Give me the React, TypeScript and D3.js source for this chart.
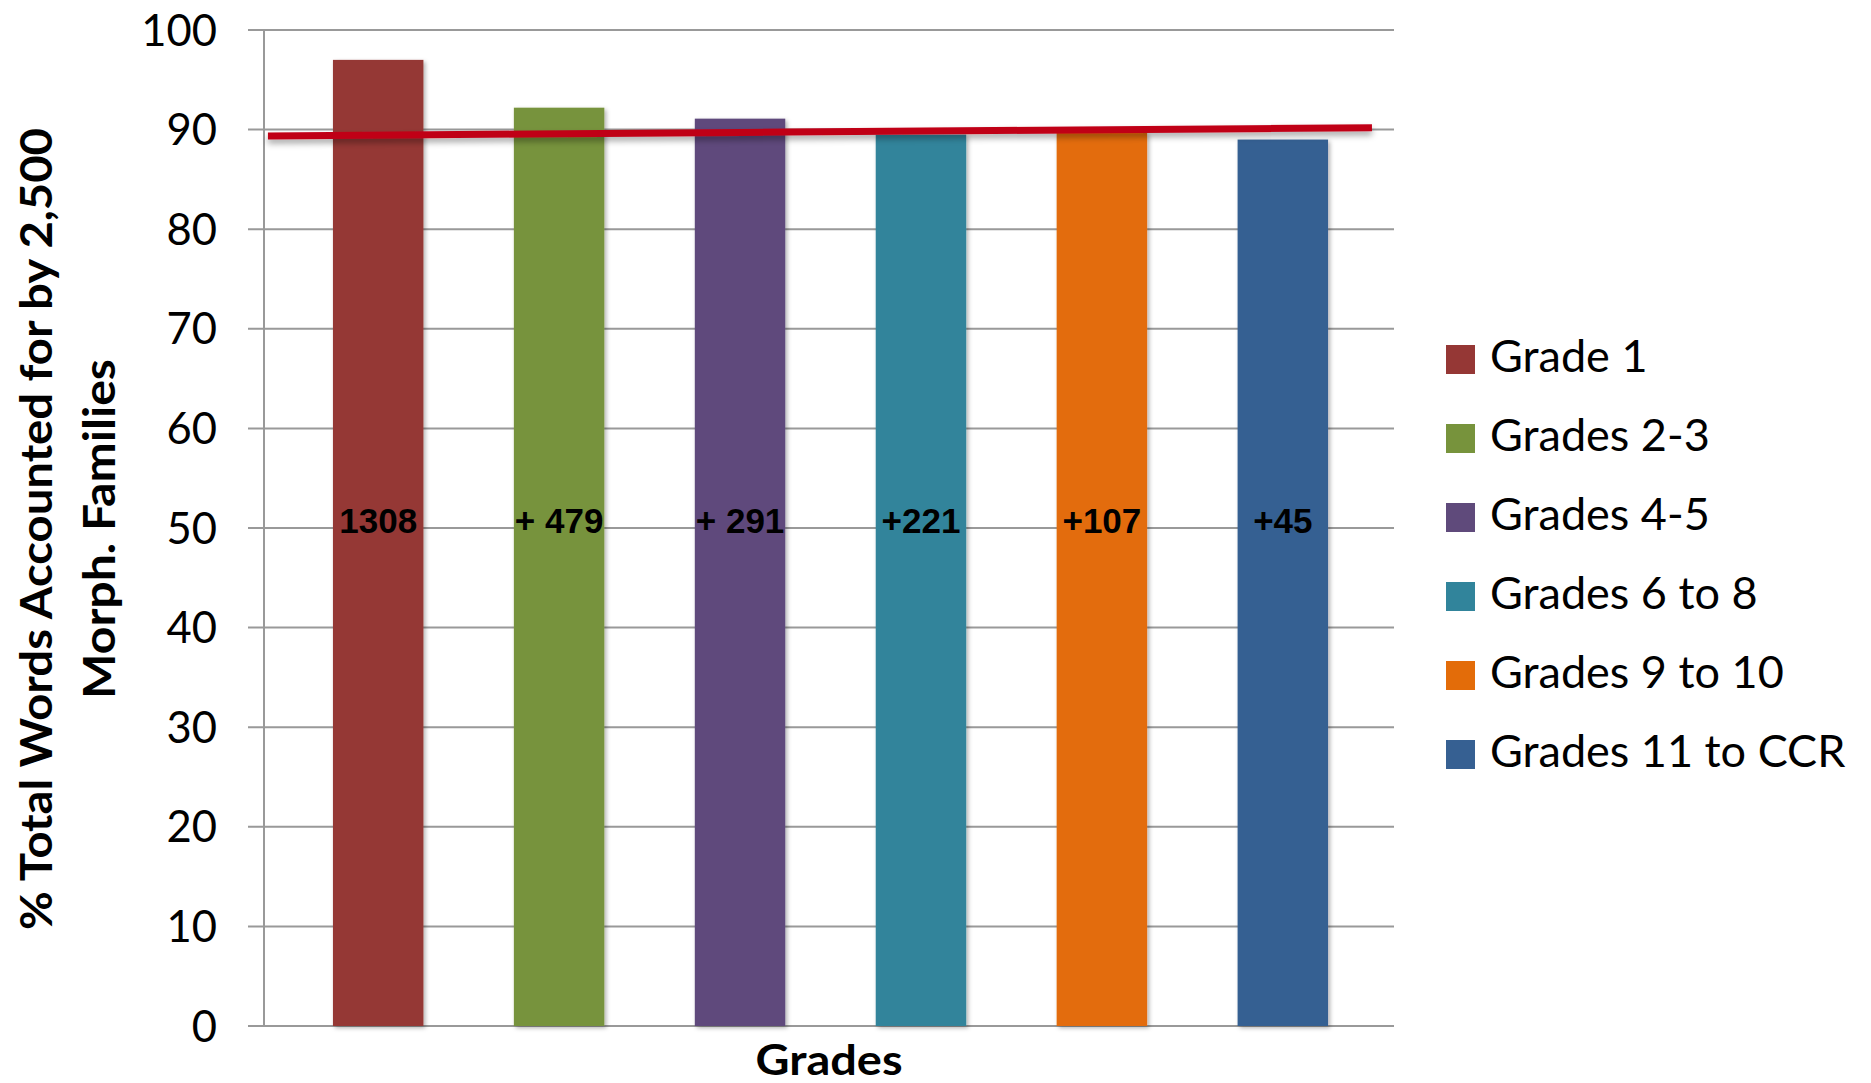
import React from "react";
import * as d3 from "d3";

const categories = ["Grade 1", "Grades 2-3", "Grades 4-5", "Grades 6 to 8", "Grades 9 to 10", "Grades 11 to CCR"];
const values = [97.0, 92.2, 91.1, 89.5, 89.7, 89.0];
const barLabels = ["1308", "+ 479", "+ 291", "+221", "+107", "+45"];
const colors = ["#953735", "#77933C", "#5F4A7B", "#31849B", "#E36C09", "#366092"];
const yTicks = [0, 10, 20, 30, 40, 50, 60, 70, 80, 90, 100];
const trendLine = [
  { t: 0.0035, v: 89.36 },
  { t: 0.9805, v: 90.19 },
];
const labelLevel = 49.5;
const yTitleLines = ["% Total Words Accounted for by 2,500", "Morph. Families"];
const yTitleLengths = [802, 340];
const xTitle = "Grades";

const W = 1871;
const H = 1083;
const plot = { left: 264, right: 1394, top: 30, bottom: 1026 };

export default function App() {
  const x = d3.scaleBand<string>().domain(categories).range([plot.left + 2, plot.right + 1]).paddingInner(0.5).paddingOuter(0.37);
  const y = d3.scaleLinear().domain([0, 100]).range([plot.bottom, plot.top]);
  const tx = d3.scaleLinear().domain([0, 1]).range([plot.left, plot.right]);
  const linePath = d3.line<{ t: number; v: number }>().x((d) => tx(d.t)).y((d) => y(d.v))(trendLine) || "";
  const font = "Lato, 'Open Sans', sans-serif";
  return (
    <svg width={W} height={H} style={{ position: "absolute", left: 0, top: 0, background: "#fff" }}>
      <defs>
        <filter id="sh" x="-20%" y="-20%" width="150%" height="150%">
          <feDropShadow dx="2" dy="2" stdDeviation="2" floodColor="#000" floodOpacity="0.3" />
        </filter>
        <filter id="lsh" x="-5%" y="-200%" width="110%" height="500%">
          <feDropShadow dx="0" dy="4" stdDeviation="3" floodColor="#000" floodOpacity="0.35" />
        </filter>
      </defs>
      {yTicks.map((t) => (
        <line key={t} x1={plot.left - 16} x2={plot.right} y1={y(t)} y2={y(t)} stroke="#999" strokeWidth={2} />
      ))}
      <line x1={plot.left} x2={plot.left} y1={plot.top} y2={plot.bottom} stroke="#999" strokeWidth={2} />
      {yTicks.map((t) => (
        <text key={"l" + t} x={217} y={y(t)} dy="0.36em" textAnchor="end" fontFamily={font} fontSize={43.5} fill="#000">
          {t}
        </text>
      ))}
      {categories.map((c, i) => (
        <rect key={c} x={x(c)} y={y(values[i])} width={x.bandwidth()} height={plot.bottom - y(values[i])} fill={colors[i]} filter="url(#sh)" />
      ))}
      <path d={linePath} stroke="#C00018" strokeWidth={7} fill="none" filter="url(#lsh)" />
      {categories.map((c, i) => (
        <text key={"b" + c} x={(x(c) || 0) + x.bandwidth() / 2} y={y(labelLevel)} textAnchor="middle" fontFamily="'Liberation Sans', Arial, sans-serif" fontWeight="bold" fontSize={35} fill="#000">
          {barLabels[i]}
        </text>
      ))}
      {yTitleLines.map((l, i) => (
        <text key={l} transform={`translate(${52 + i * 63},${(plot.top + plot.bottom) / 2 + 1}) rotate(-90)`} textAnchor="middle" fontFamily={font} fontWeight="bold" fontSize={43} fill="#000" textLength={yTitleLengths[i]} lengthAdjust="spacingAndGlyphs">
          {l}
        </text>
      ))}
      <text x={829} y={1075} textAnchor="middle" fontFamily={font} fontWeight="bold" fontSize={42} fill="#000" textLength={147} lengthAdjust="spacingAndGlyphs">
        {xTitle}
      </text>
      {categories.map((c, i) => (
        <g key={"lg" + c} transform={`translate(1446,${345 + i * 79})`}>
          <rect width={29} height={29} fill={colors[i]} />
          <text x={44} y={27} fontFamily={font} fontSize={45} fill="#000">
            {c}
          </text>
        </g>
      ))}
    </svg>
  );
}
